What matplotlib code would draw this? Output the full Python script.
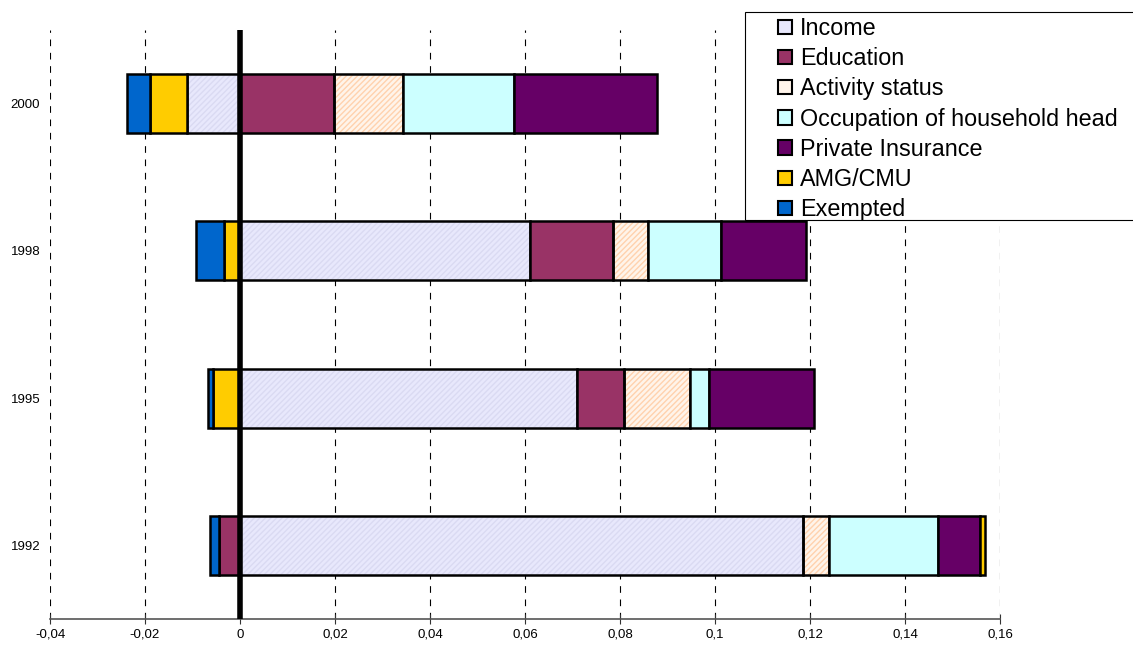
import matplotlib
matplotlib.use("Agg")
import matplotlib.pyplot as plt
import matplotlib.ticker as mticker
from matplotlib.patches import Patch, Rectangle
import numpy as np

plt.rcParams['font.family'] = ['Liberation Sans', 'DejaVu Sans']

years = ["1992", "1995", "1998", "2000"]
series = ["Income", "Education", "Activity status", "Occupation of household head",
          "Private Insurance", "AMG/CMU", "Exempted"]

# contributions per year (1992, 1995, 1998, 2000)
income     = [0.1185, 0.0709, 0.0611, -0.0112]
education  = [-0.0044, 0.0099, 0.0174, 0.0198]
activity   = [0.0055, 0.0139, 0.0074, 0.0145]
occupation = [0.0229, 0.0040, 0.0154, 0.0234]
private    = [0.0089, 0.0222, 0.0179, 0.0301]
amg        = [0.0010, -0.0057, -0.0034, -0.0078]
exempted   = [-0.0019, -0.0010, -0.0059, -0.0048]

values = [income, education, activity, occupation, private, amg, exempted]
colors = ["#E8E8FC", "#993366", "#FFF4EA", "#CCFFFF", "#660066", "#FFCC00", "#0066CC"]
hatches = ["//////", None, "//////", None, None, None, None]
hatch_colors = ["#DADAF2", None, "#FFD2AE", None, None, None, None]

fig = plt.figure(figsize=(11.33, 6.45), dpi=100)
ax = fig.add_axes([50/1133, 26/645, 950/1133, 589/645])

y = np.arange(len(years))
pos_left = np.zeros(len(years))
neg_left = np.zeros(len(years))
h = 0.4

for vals, c, ht, hc in zip(values, colors, hatches, hatch_colors):
    vals = np.array(vals)
    left = np.where(vals >= 0, pos_left, neg_left)
    if ht:
        ax.barh(y, vals, left=left, height=h, color=c, hatch=ht,
                edgecolor=hc, linewidth=0, zorder=2)
        ax.barh(y, vals, left=left, height=h, fill=False,
                edgecolor="black", linewidth=1.8, zorder=3)
    else:
        ax.barh(y, vals, left=left, height=h, color=c,
                edgecolor="black", linewidth=1.8, zorder=3)
    pos_left = pos_left + np.where(vals >= 0, vals, 0)
    neg_left = neg_left + np.where(vals < 0, vals, 0)

ax.axvline(0, color="black", linewidth=4, zorder=5)

ax.set_xlim(-0.04, 0.16)
ax.set_ylim(-0.5, 3.5)
ax.set_xticks(np.arange(-0.04, 0.161, 0.02))
ax.xaxis.set_major_formatter(mticker.FuncFormatter(
    lambda v, p: ("%g" % round(v, 2)).replace(".", ",")))
ax.set_yticks(y)
ax.set_yticklabels(years)
ax.tick_params(axis='y', length=0, labelsize=9.5, pad=7)
ax.tick_params(axis='x', direction='inout', length=7, labelsize=9.5, color="#333333")
ax.grid(axis='x', linestyle=(0, (6, 6)), color="black", linewidth=0.8, zorder=0)
for s in ["top", "right", "left"]:
    ax.spines[s].set_visible(False)
ax.spines["bottom"].set_color("#555555")
ax.spines["bottom"].set_linewidth(1.2)

# legend frame running off the right edge
fig.patches.append(Rectangle((745/1133, 1 - 220/645), 400/1133, 208/645,
                             transform=fig.transFigure, facecolor="white",
                             edgecolor="black", linewidth=0.8, zorder=9))

handles = []
for c in colors:
    handles.append(Patch(facecolor=c, edgecolor="black", linewidth=1.5))
leg = fig.legend(handles, series, loc="upper left", bbox_to_anchor=(778/1133, 1 - 17/645),
                 frameon=False, fontsize=16.8,
                 handlelength=0.58, handleheight=0.58, handletextpad=0.37,
                 labelspacing=0.31, borderpad=0, borderaxespad=0)
leg.set_zorder(10)

fig.savefig("out.png", dpi=100)
